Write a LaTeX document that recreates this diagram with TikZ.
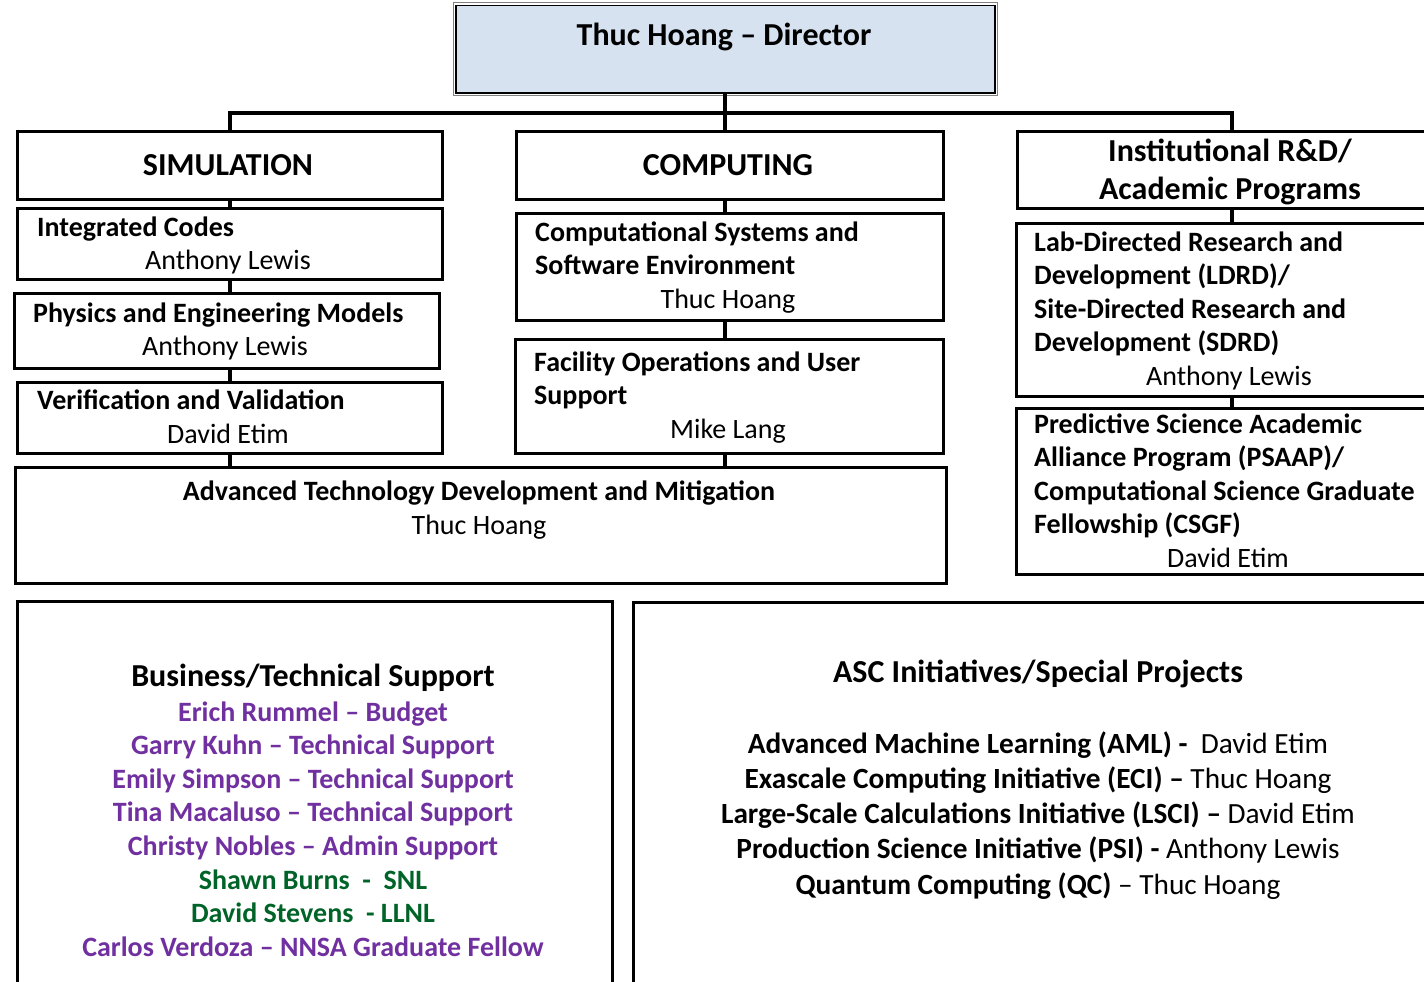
\documentclass[tikz,border=0pt]{standalone}
\usepackage{fontspec}
\setmainfont{Carlito}
\definecolor{dirblue}{RGB}{214,226,240}
\definecolor{purp}{RGB}{112,48,160}
\definecolor{grn}{RGB}{0,100,40}
\begin{document}
\begin{tikzpicture}[x=1pt,y=-1pt,
  box/.style={draw,line width=3pt,inner sep=0pt,anchor=north west},
  conn/.style={line width=4pt},
  body/.style={font=\fontsize{28}{33.6}\selectfont,inner sep=0pt},
  bbody/.style={font=\fontsize{28}{33.6}\selectfont\bfseries,inner sep=0pt,align=left},
  head/.style={font=\fontsize{32}{38}\selectfont\bfseries,inner sep=0pt,align=center}]
\useasboundingbox (0,0) rectangle (1424,982);
\clip (0,0) rectangle (1424,982);
% boxes
\node[box,line width=1.5pt,fill=dirblue,minimum width=539pt,minimum height=87pt] (dir) at (455,5) {};
\draw[gray,line width=1pt] ([xshift=-2pt,yshift=2pt]dir.north west) rectangle ([xshift=2pt,yshift=-2pt]dir.south east);
\node[box,minimum width=425pt,minimum height=68pt] (sim) at (16,130) {};
\node[box,minimum width=425pt,minimum height=71pt] (ic) at (16,207) {};
\node[box,minimum width=425pt,minimum height=75pt] (phys) at (13,292) {};
\node[box,minimum width=425pt,minimum height=71pt] (vv) at (16,381) {};
\node[box,minimum width=931pt,minimum height=116pt] (atdm) at (14,466) {};
\node[box,minimum width=427pt,minimum height=68pt] (comp) at (515,130) {};
\node[box,minimum width=427pt,minimum height=107pt] (csse) at (515,212) {};
\node[box,minimum width=428pt,minimum height=114pt] (fous) at (514,338) {};
\node[box,minimum width=429pt,minimum height=77pt] (inst) at (1016,130) {};
\node[box,minimum width=430pt,minimum height=173pt] (ldrd) at (1015,222) {};
\node[box,minimum width=430pt,minimum height=166pt] (psaap) at (1015,407) {};
\node[box,minimum width=595pt,minimum height=400pt] (bts) at (16,600) {};
\node[box,minimum width=813pt,minimum height=399pt] (asc) at (632,601) {};
% connectors
\coordinate (bar) at (723,113);
\draw[conn] (dir.south) -- (dir.south |- comp.north);
\draw[conn] (sim.north) |- (bar) -| (inst.north);
\draw[conn] (sim.south) -- (sim.south |- ic.north);
\draw[conn] (ic.south) -- (ic.south |- phys.north);
\draw[conn] (ic.south |- phys.south) -- (ic.south |- vv.north);
\draw[conn] (vv.south) -- (vv.south |- atdm.north);
\draw[conn] (dir.south |- comp.south) -- (dir.south |- csse.north);
\draw[conn] (dir.south |- csse.south) -- (dir.south |- fous.north);
\draw[conn] (dir.south |- fous.south) -- (dir.south |- atdm.north);
\draw[conn] (inst.south) -- (inst.south |- ldrd.north);
\draw[conn] (inst.south |- ldrd.south) -- (inst.south |- psaap.north);
% texts (base anchor of a multi-line node = last line's baseline)
\node[head,anchor=base] (tdir) at (724,46) {Thuc Hoang -- Director};
\node[head,anchor=base] (tsim) at (228,175) {SIMULATION};
\node[head,anchor=base] (tcomp) at (728,175) {COMPUTING};
\node[head,anchor=base] (tinst) at (1230,199) {Institutional R\&D/\\Academic Programs};
\node[bbody,anchor=base west] (tic) at (37,236) {Integrated Codes};
\node[body,anchor=base] (nic) at (228,269) {Anthony Lewis};
\node[bbody,anchor=base west] (tphys) at (33,322) {Physics and Engineering Models};
\node[body,anchor=base] (nphys) at (225,355) {Anthony Lewis};
\node[bbody,anchor=base west] (tvv) at (37,409) {Verification and Validation};
\node[body,anchor=base] (nvv) at (228,443) {David Etim};
\node[bbody,anchor=base west] (tcsse) at (535,274.6) {Computational Systems and\\Software Environment};
\node[body,anchor=base] (ncsse) at (728,308) {Thuc Hoang};
\node[bbody,anchor=base west] (tfous) at (534,404.6) {Facility Operations and User\\Support};
\node[body,anchor=base] (nfous) at (728,438) {Mike Lang};
\node[bbody,anchor=base west] (tldrd) at (1034,351.8) {Lab-Directed Research and\\Development (LDRD)/\\Site-Directed Research and\\Development (SDRD)};
\node[body,anchor=base] (nldrd) at (1229,385) {Anthony Lewis};
\node[bbody,anchor=base west] (tpsaap) at (1034,533.8) {Predictive Science Academic\\Alliance Program (PSAAP)/\\Computational Science Graduate\\Fellowship (CSGF)};
\node[body,anchor=base] (npsaap) at (1228,567) {David Etim};
\node[bbody,anchor=base] (tatdm) at (479,500) {Advanced Technology Development and Mitigation};
\node[body,anchor=base] (natdm) at (479,534) {Thuc Hoang};
\node[head,anchor=base] (tbts) at (313,686) {Business/Technical Support};
\node[bbody,align=center,anchor=base] (lbts) at (313,956.2) {%
\textcolor{purp}{Erich Rummel -- Budget}\\
\textcolor{purp}{Garry Kuhn -- Technical Support}\\
\textcolor{purp}{Emily Simpson -- Technical Support}\\
\textcolor{purp}{Tina Macaluso -- Technical Support}\\
\textcolor{purp}{Christy Nobles -- Admin Support}\\
\textcolor{grn}{Shawn Burns~~-~~SNL}\\
\textcolor{grn}{David Stevens~~-~LLNL}\\
\textcolor{purp}{Carlos Verdoza -- NNSA Graduate Fellow}};
\node[head,anchor=base] (tasc) at (1038,682) {ASC Initiatives/Special Projects};
\node[body,font=\fontsize{29.3}{35.3}\selectfont,align=center,anchor=base] (lasc) at (1038,894.2) {%
\textbf{Advanced Machine Learning (AML) -}~~David Etim\\
\textbf{Exascale Computing Initiative (ECI) --} Thuc Hoang\\
\textbf{Large-Scale Calculations Initiative (LSCI) --} David Etim\\
\textbf{Production Science Initiative (PSI) -} Anthony Lewis\\
\textbf{Quantum Computing (QC)} -- Thuc Hoang};
\end{tikzpicture}
\end{document}
